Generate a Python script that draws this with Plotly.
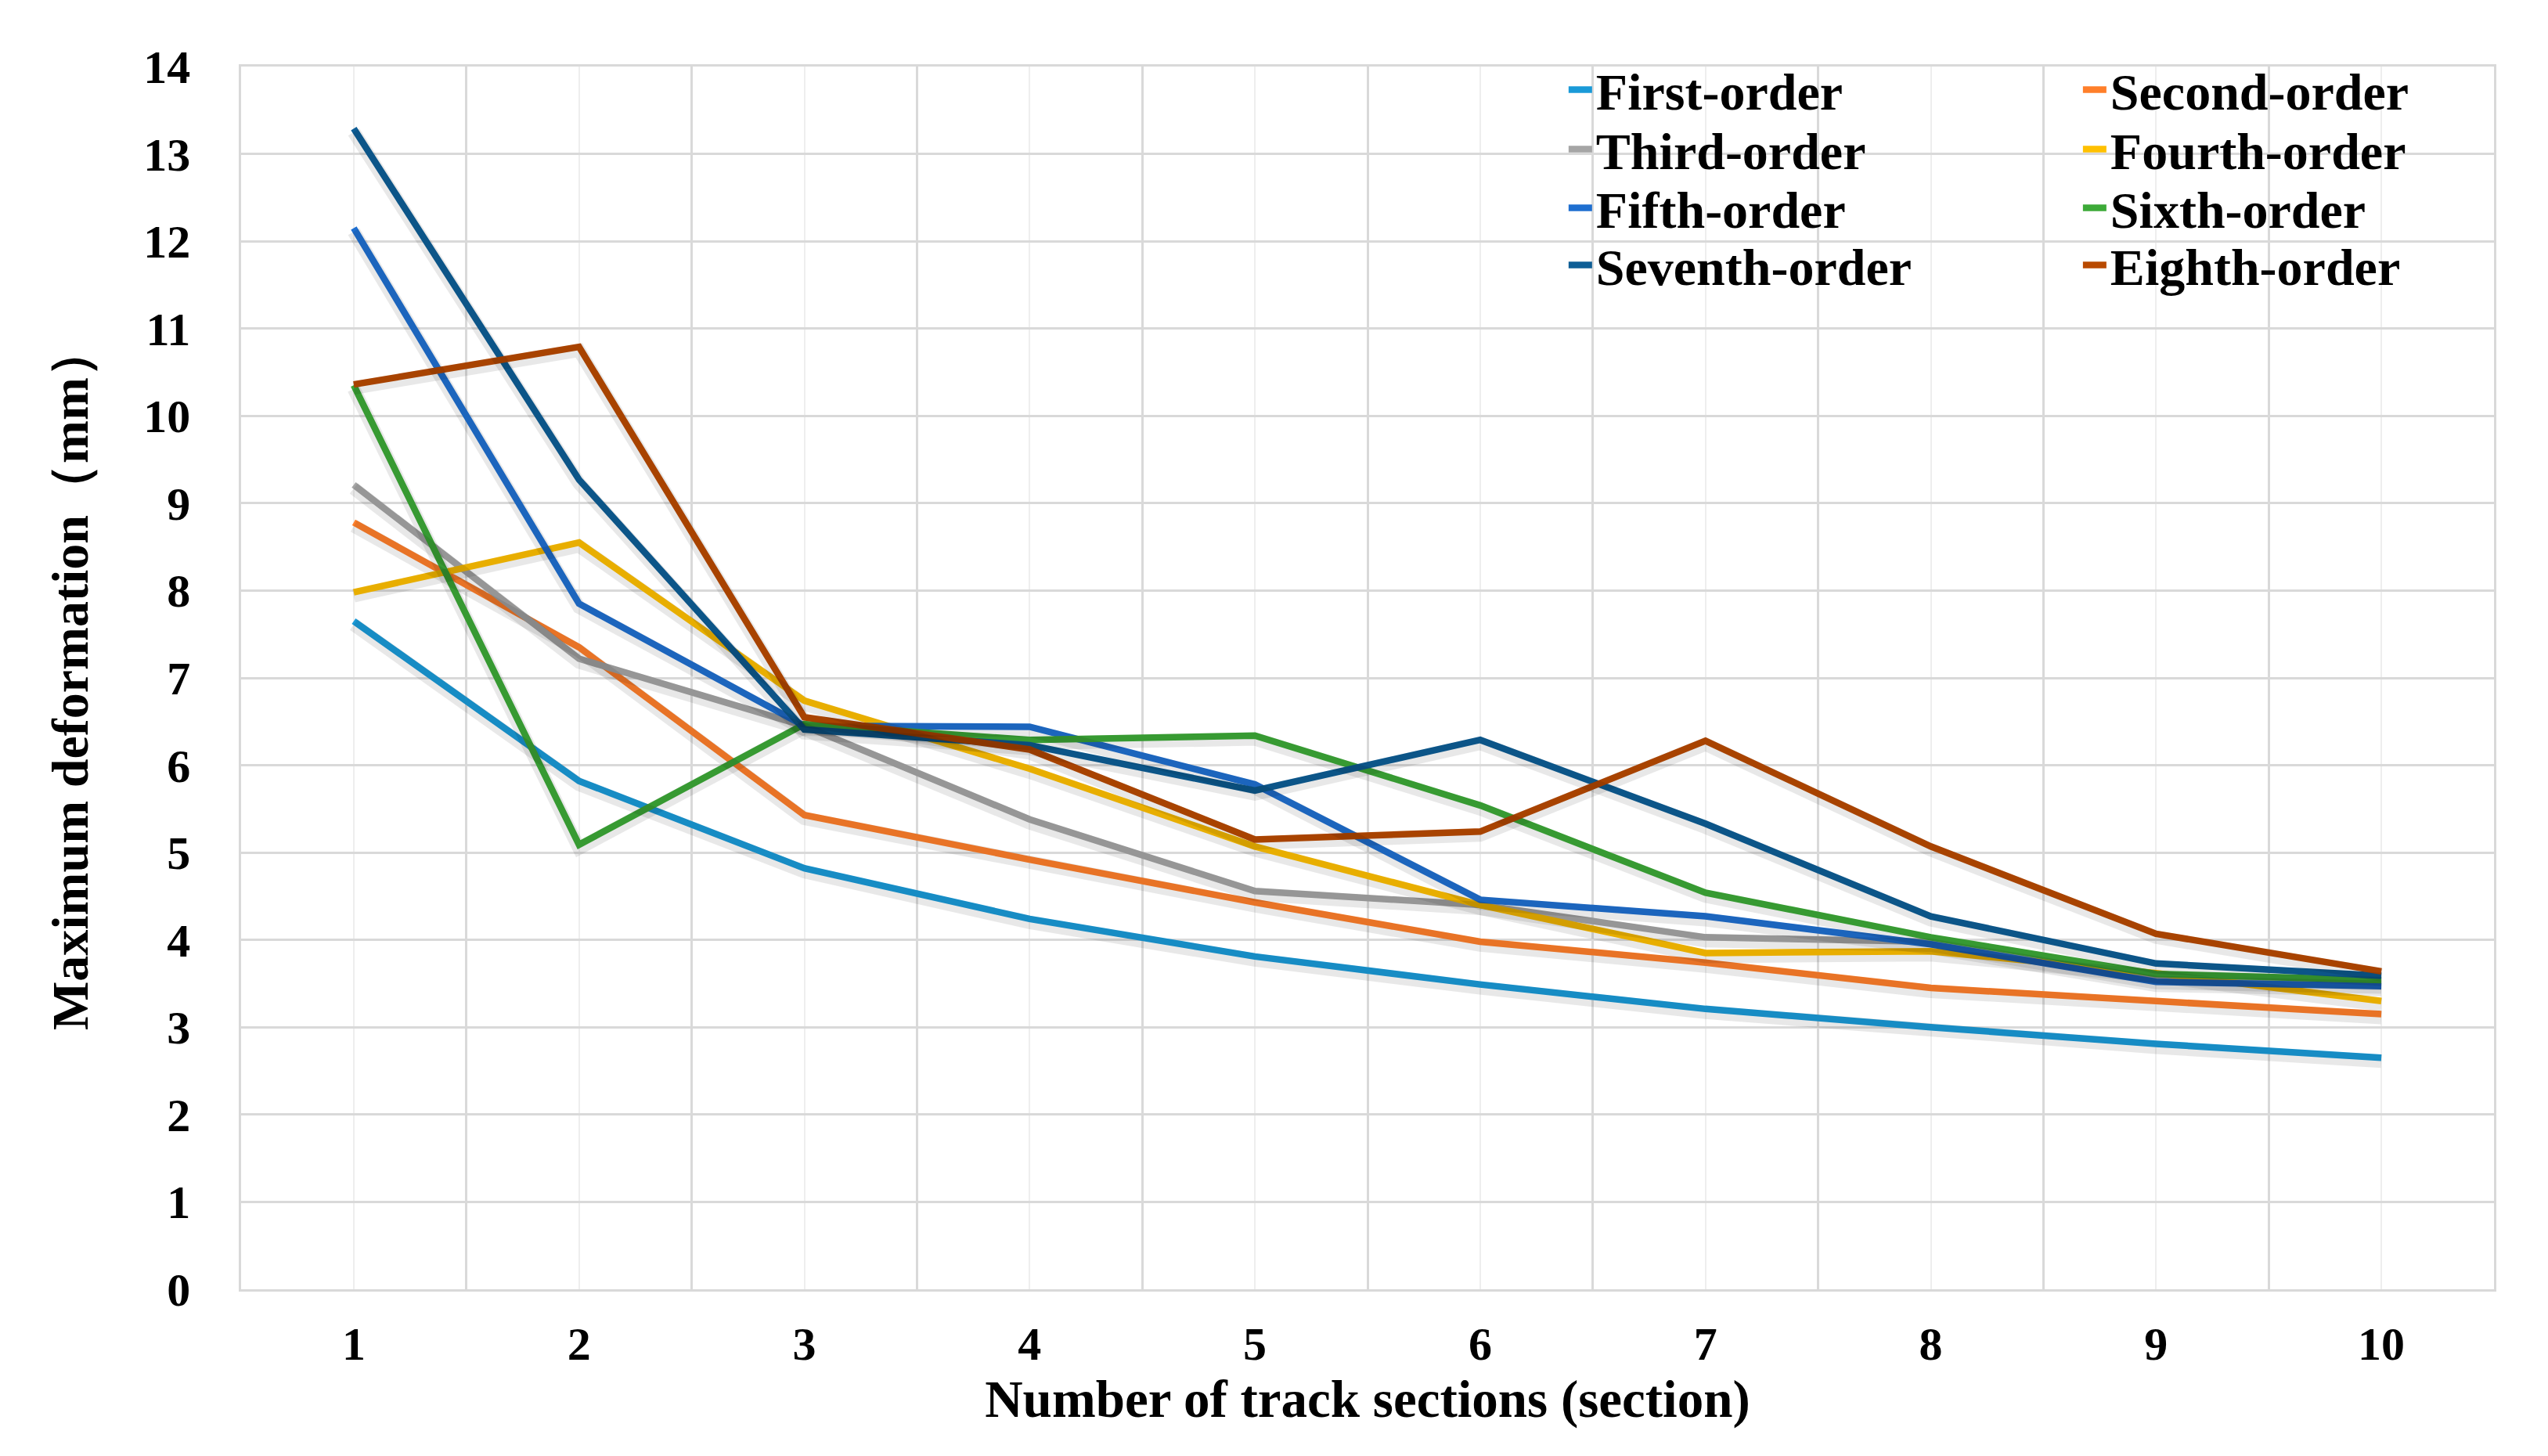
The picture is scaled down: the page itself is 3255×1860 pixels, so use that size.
import plotly.graph_objects as go

sections = [1, 2, 3, 4, 5, 6, 7, 8, 9, 10]
tick_labels = ["1", "2", "3", "4", "5", "6", "7", "8", "9", "10"]

series_names = ["First-order", "Second-order", "Third-order", "Fourth-order",
                "Fifth-order", "Sixth-order", "Seventh-order", "Eighth-order"]

first_order = [7.65, 5.82, 4.82, 4.24, 3.81, 3.49, 3.21, 3.00, 2.81, 2.65]
second_order = [8.78, 7.35, 5.43, 4.92, 4.43, 3.98, 3.74, 3.45, 3.30, 3.15]
third_order = [9.21, 7.22, 6.45, 5.38, 4.56, 4.40, 4.03, 3.98, 3.55, 3.50]
fourth_order = [7.98, 8.55, 6.74, 5.96, 5.07, 4.40, 3.85, 3.87, 3.62, 3.30]
fifth_order = [12.15, 7.85, 6.45, 6.44, 5.78, 4.46, 4.27, 3.95, 3.52, 3.47]
sixth_order = [10.35, 5.09, 6.47, 6.29, 6.34, 5.54, 4.54, 4.03, 3.61, 3.54]
seventh_order = [13.29, 9.27, 6.41, 6.23, 5.71, 6.29, 5.33, 4.27, 3.73, 3.59]
eighth_order = [10.36, 10.79, 6.55, 6.18, 5.15, 5.24, 6.28, 5.07, 4.07, 3.64]

all_series = [first_order, second_order, third_order, fourth_order,
              fifth_order, sixth_order, seventh_order, eighth_order]

colors = ["#1A9AD8", "#FF7F2A", "#A5A5A5", "#FFC000",
          "#1F6FD0", "#3DAA38", "#0E5E96", "#B94A00"]

FONT = "Liberation Serif, Times New Roman, serif"

fig = go.Figure()

# soft drop shadow under the lines (drawn on a slightly offset hidden axis)
for vals in all_series:
    fig.add_trace(go.Scatter(
        x=sections, y=vals, mode="lines", yaxis="y2",
        line=dict(color="rgba(0,0,0,0.09)", width=17),
        showlegend=False, hoverinfo="skip"))

for i, (name, vals, col) in enumerate(zip(series_names, all_series, colors)):
    k = i + 1
    fig.add_trace(go.Scatter(
        x=sections, y=vals, mode="lines", name=name,
        line=dict(color=col, width=8.5),
        legend="legend" if k == 1 else f"legend{k}"))

legend_font = dict(family=FONT, size=66, color="black", weight="bold")
col_x = [0.5875, 0.8158]
row_y = [1.0128, 0.9641, 0.9161, 0.8694]

legends = {}
for i in range(8):
    k = i + 1
    key = "legend" if k == 1 else f"legend{k}"
    legends[key] = dict(x=col_x[i % 2], xanchor="left", y=row_y[i // 2], yanchor="top",
                        orientation="v", font=legend_font, bgcolor="rgba(0,0,0,0)",
                        itemwidth=30)

fig.update_layout(
    width=3255, height=1860,
    margin=dict(l=300, r=77, t=77, b=221),
    paper_bgcolor="white", plot_bgcolor="white",
    font=dict(family=FONT, color="black"),
    xaxis=dict(
        range=[0.5, 10.5], tickmode="array", tickvals=sections, ticktext=tick_labels,
        showgrid=True, gridcolor="#EEEEEE", gridwidth=2,
        minor=dict(tickmode="linear", tick0=0.5, dtick=1, showgrid=True,
                   gridcolor="#D9D9D9", gridwidth=2.5, ticks=""),
        zeroline=False, showline=True, linecolor="#D9D9D9", linewidth=3, mirror=True,
        ticks="", ticklabelstandoff=15,
        tickfont=dict(family=FONT, size=60, color="black", weight="bold"),
        title=dict(text="Number of track sections (section)", standoff=8,
                   font=dict(family=FONT, size=67, color="black", weight="bold")),
    ),
    yaxis=dict(
        range=[0, 14], tickmode="linear", tick0=0, dtick=1,
        showgrid=True, gridcolor="#D9D9D9", gridwidth=2.5,
        zeroline=False, showline=True, linecolor="#D9D9D9", linewidth=2.5, mirror=True,
        ticks="", ticklabelstandoff=50,
        tickfont=dict(family=FONT, size=60, color="black", weight="bold"),
        title=dict(text="Maximum deformation（mm）", standoff=50,
                   font=dict(family=FONT, size=66, color="black", weight="bold")),
    ),
    yaxis2=dict(range=[0.04, 14.04], overlaying="y", visible=False),
    **legends,
)

fig.write_html("out.html")
